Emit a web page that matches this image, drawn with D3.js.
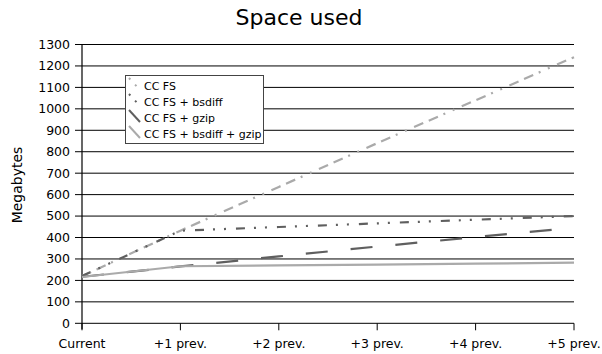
<!DOCTYPE html>
<html>
<head>
<meta charset="utf-8">
<script src="https://cdn.jsdelivr.net/npm/d3@7"></script>
<style>
  html, body { margin: 0; padding: 0; background: #fff; }
  svg { display: block; font-family: "DejaVu Sans", sans-serif; }
</style>
</head>
<body>
<svg id="chart" width="602" height="354"></svg>
<script>
// Storage used by each scheme, in megabytes, as more previous versions are kept
const categories = ["Current", "+1 prev.", "+2 prev.", "+3 prev.", "+4 prev.", "+5 prev."];
const seriesNames = ["CC FS", "CC FS + bsdiff", "CC FS + gzip", "CC FS + bsdiff + gzip"];
const ccfs          = [220, 432, 636, 840, 1040, 1241];
const ccfsBsdiff    = [220, 432, 449, 466, 483, 500];
const ccfsGzip      = [217, 265, 312, 358, 402, 446];
const ccfsBsdiffGz  = [216, 266, 270, 274, 278, 283];
const yTicks = d3.range(0, 1301, 100);

const series = [
  { name: seriesNames[0], values: ccfs,         color: "#aaaaaa", dash: "10,6,10,6,2,8,2,8" },
  { name: seriesNames[1], values: ccfsBsdiff,   color: "#5f5f5f", dash: "9,9,2,9,2,10" },
  { name: seriesNames[2], values: ccfsGzip,     color: "#5f5f5f", dash: "22,23" },
  { name: seriesNames[3], values: ccfsBsdiffGz, color: "#aaaaaa", dash: null }
];

const svg = d3.select("#chart");
const plotLeft = 82, plotRight = 574, plotTop = 44.5, plotBottom = 323.3;

const x = d3.scalePoint().domain(categories).range([plotLeft, plotRight]);
const y = d3.scaleLinear().domain([0, 1300]).range([plotBottom, plotTop]);

// Title
svg.append("text")
  .attr("x", 299).attr("y", 25)
  .attr("text-anchor", "middle")
  .attr("font-size", 22)
  .attr("fill", "#000")
  .text("Space used");

// Horizontal gridlines with a short tick to the left of the axis
svg.append("g").selectAll("line")
  .data(yTicks)
  .join("line")
  .attr("x1", plotLeft - 7).attr("x2", plotRight)
  .attr("y1", d => y(d)).attr("y2", d => y(d))
  .attr("stroke", "#000").attr("stroke-width", 1);

// Y tick labels
svg.append("g").selectAll("text")
  .data(yTicks)
  .join("text")
  .attr("x", 70).attr("y", d => y(d))
  .attr("dy", "0.35em")
  .attr("text-anchor", "end")
  .attr("font-size", 12.5)
  .attr("fill", "#000")
  .text(d => d);

// Y axis line
svg.append("line")
  .attr("x1", plotLeft).attr("x2", plotLeft)
  .attr("y1", plotTop).attr("y2", plotBottom + 6)
  .attr("stroke", "#000").attr("stroke-width", 1.2);

// X axis ticks
svg.append("g").selectAll("line")
  .data(categories)
  .join("line")
  .attr("x1", d => x(d)).attr("x2", d => x(d))
  .attr("y1", plotBottom).attr("y2", plotBottom + 7)
  .attr("stroke", "#000").attr("stroke-width", 1);

// X tick labels
svg.append("g").selectAll("text")
  .data(categories)
  .join("text")
  .attr("x", d => x(d)).attr("y", 348)
  .attr("text-anchor", "middle")
  .attr("font-size", 12.5)
  .attr("fill", "#000")
  .text(d => d);

// Y axis title
svg.append("text")
  .attr("transform", "translate(22,185) rotate(-90)")
  .attr("text-anchor", "middle")
  .attr("font-size", 14)
  .attr("fill", "#000")
  .text("Megabytes");

// Series lines, later series drawn over earlier ones where they coincide
const line = d3.line()
  .x((d, i) => x(categories[i]))
  .y(d => y(d));

svg.append("g").selectAll("path")
  .data(series)
  .join("path")
  .attr("d", s => line(s.values))
  .attr("fill", "none")
  .attr("stroke", s => s.color)
  .attr("stroke-width", 2.2)
  .attr("stroke-dasharray", s => s.dash);

// Legend
const legend = svg.append("g");
legend.append("rect")
  .attr("x", 125.5).attr("y", 75.5)
  .attr("width", 138).attr("height", 68)
  .attr("fill", "#fff")
  .attr("stroke", "#444").attr("stroke-width", 1);

const rowY = d3.scalePoint().domain(seriesNames).range([86, 134]);
const items = legend.selectAll("g.item")
  .data(series)
  .join("g")
  .attr("class", "item")
  .attr("transform", s => `translate(0,${rowY(s.name)})`);

items.append("line")
  .attr("x1", 129).attr("y1", -8)
  .attr("x2", 140).attr("y2", 4)
  .attr("stroke", s => s.color)
  .attr("stroke-width", 2)
  .attr("stroke-dasharray", (s, i) => i < 2 ? "2,7" : null);

items.append("text")
  .attr("x", 144).attr("y", 0)
  .attr("dy", "0.35em")
  .attr("font-size", 11)
  .attr("fill", "#000")
  .text(s => s.name);
</script>
</body>
</html>
